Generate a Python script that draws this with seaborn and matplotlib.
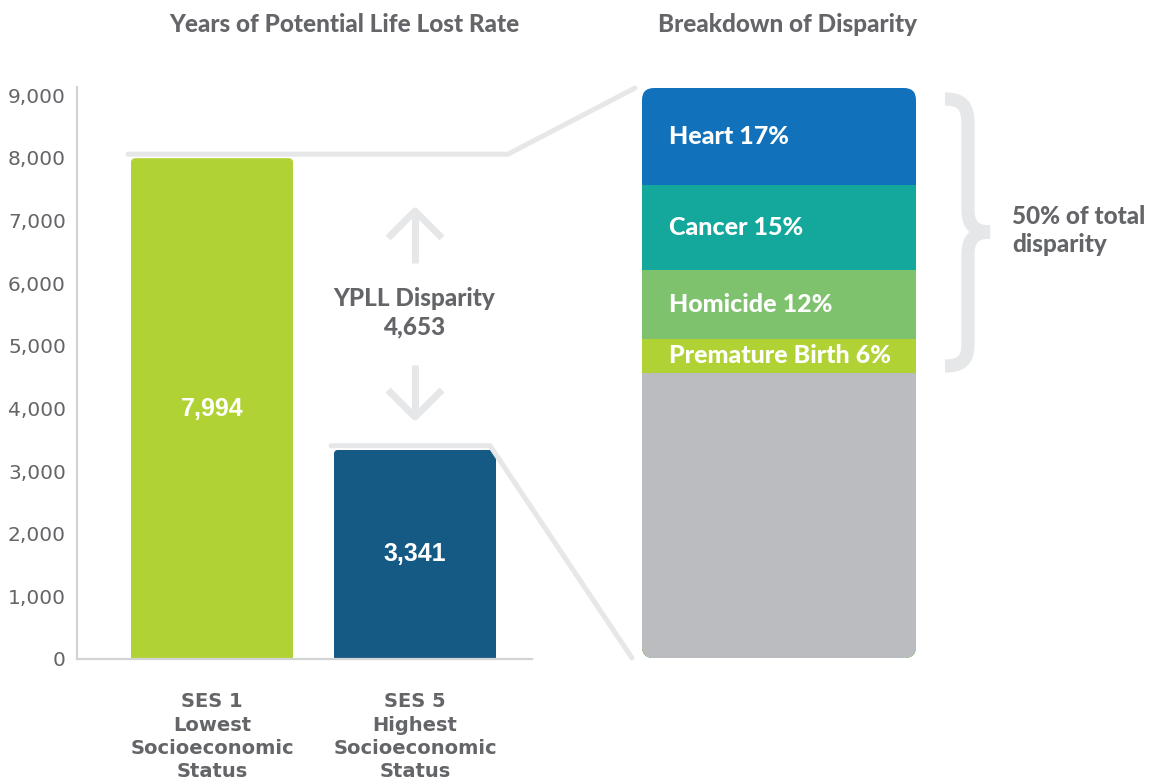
import numpy as np
import pandas as pd
import matplotlib
matplotlib.use("Agg")
import matplotlib.pyplot as plt
import seaborn as sns
from matplotlib.patches import FancyBboxPatch, PathPatch
from matplotlib.path import Path
from matplotlib.transforms import IdentityTransform

groups = ["SES 1\nLowest\nSocioeconomic\nStatus", "SES 5\nHighest\nSocioeconomic\nStatus"]
ypll = [7994, 3341]
bar_colors = ["#b0d235", "#155a85"]

causes = ["Heart", "Cancer", "Homicide", "Premature Birth", "Other"]
shares = [17, 15, 12, 6, 50]
cause_colors = ["#1172bb", "#13a89b", "#7fc26e", "#b0d235", "#bbbcbf"]

yticks = [0, 1000, 2000, 3000, 4000, 5000, 6000, 7000, 8000, 9000]

GREY_TXT = "#646568"
LINE = "#e6e7e8"
W, H = 1156, 783

sns.set_style("white")
plt.rcParams["font.family"] = ["DejaVu Sans"]

fig = plt.figure(figsize=(W / 100, H / 100), dpi=100)

def px_rect(x0, y_top, x1, y_bot):
    return [x0 / W, 1 - y_bot / H, (x1 - x0) / W, (y_bot - y_top) / H]

# left panel
ax = fig.add_axes(px_rect(77, 87, 532, 659))
df = pd.DataFrame({"group": groups, "ypll": ypll})
sns.barplot(data=df, x="group", y="ypll", hue="group", palette=bar_colors,
            width=0.8, saturation=1, legend=False, linewidth=0, ax=ax)
ax.set_xlim(-0.665, 1.576)
ax.set_ylim(0, 9130)
ax.set_yticks(yticks)
ax.set_yticklabels([f"{v:,}" for v in yticks], fontsize=14.5, color=GREY_TXT)
ax.tick_params(axis="y", length=0, pad=8)
ax.tick_params(axis="x", length=0, pad=24)
ax.set_xticks(range(len(groups)))
ax.set_xticklabels(groups, fontsize=14, fontweight="bold", color=GREY_TXT, linespacing=1.29)
ax.set_xlabel("")
ax.set_ylabel("")
for s in ["top", "right"]:
    ax.spines[s].set_visible(False)
for s in ["left", "bottom"]:
    ax.spines[s].set_color("#d1d3d4")
    ax.spines[s].set_linewidth(1.6)

# rounded top corners on the bars
for p in ax.patches:
    x0, y0 = ax.transData.transform((p.get_x(), 0))
    x1, y1 = ax.transData.transform((p.get_x() + p.get_width(), p.get_height()))
    clip = FancyBboxPatch((x0, y0 - 30), x1 - x0, y1 - y0 + 30,
                          boxstyle="round,pad=0,rounding_size=5",
                          transform=IdentityTransform())
    p.set_clip_path(clip)

for i, v in enumerate(ypll):
    ax.text(i, v / 2, f"{v:,}", ha="center", va="center", color="white",
            fontsize=18, fontweight="bold", family="Liberation Sans")

# right panel: disparity breakdown
axr = fig.add_axes(px_rect(642, 88, 916, 658))
tops = 100 - np.concatenate([[0], np.cumsum(shares)[:-1]])
for cause, top, col in zip(causes, tops, cause_colors):
    sns.barplot(x=["disparity"], y=[top], color=col, width=1, saturation=1,
                linewidth=0, ax=axr)
axr.set_xlim(-0.5, 0.5)
axr.set_ylim(0, 100)
axr.axis("off")
x0, y0 = axr.transAxes.transform((0, 0))
x1, y1 = axr.transAxes.transform((1, 1))
box = FancyBboxPatch((x0, y0), x1 - x0, y1 - y0,
                     boxstyle="round,pad=0,rounding_size=12",
                     transform=IdentityTransform())
for p in axr.patches:
    p.set_clip_path(box)
for cause, share, top in zip(causes[:-1], shares[:-1], tops[:-1]):
    axr.text(-0.403, top - share / 2, f"{cause} {share}%", ha="left", va="center",
             color="white", fontsize=18, fontweight="black", family="Lato")

# annotation layer in pixel coordinates
ov = fig.add_axes([0, 0, 1, 1])
ov.set_xlim(0, W)
ov.set_ylim(H, 0)
ov.axis("off")
ov.patch.set_alpha(0)

def to_px(axis, x, y):
    dx, dy = axis.transData.transform((x, y))
    return dx, H - dy

_, y_hi = to_px(ax, 0, ypll[0])
_, y_lo = to_px(ax, 0, ypll[1])
ov.plot([128, 508, 635], [y_hi - 4, y_hi - 4, 88], color=LINE, lw=3.6,
        solid_capstyle="round", solid_joinstyle="miter")
ov.plot([331, 490, 632], [y_lo - 4, y_lo - 4, 658], color=LINE, lw=3.6,
        solid_capstyle="round", solid_joinstyle="miter")

# disparity arrows
ov.plot([415, 415], [263, 212], color=LINE, lw=5, solid_capstyle="butt")
ov.plot([388, 415, 442], [238, 211, 238], color=LINE, lw=5, solid_capstyle="butt")
ov.plot([415, 415], [365, 416], color=LINE, lw=5, solid_capstyle="butt")
ov.plot([388, 415, 442], [390, 417, 390], color=LINE, lw=5, solid_capstyle="butt")
ov.text(414, 299, "YPLL Disparity", ha="center", va="center", fontsize=17.5,
        fontweight="black", color=GREY_TXT, family="Lato")
ov.text(414, 327, f"{ypll[0] - ypll[1]:,}", ha="center", va="center", fontsize=17.5,
        fontweight="black", color=GREY_TXT, family="Lato")

# curly brace
verts = [(945, 99), (962, 99), (968, 106), (968, 124),
         (968, 210),
         (968, 225), (975, 232), (990, 232),
         (975, 232), (968, 239), (968, 254),
         (968, 343),
         (968, 360), (962, 366), (945, 366)]
codes = [Path.MOVETO, Path.CURVE4, Path.CURVE4, Path.CURVE4,
         Path.LINETO,
         Path.CURVE4, Path.CURVE4, Path.CURVE4,
         Path.CURVE4, Path.CURVE4, Path.CURVE4,
         Path.LINETO,
         Path.CURVE4, Path.CURVE4, Path.CURVE4]
ov.add_patch(PathPatch(Path(verts, codes), fill=False, edgecolor=LINE, lw=9.5,
                       capstyle="butt"))
ov.text(1012, 217, "50% of total", ha="left", va="center", fontsize=17.5,
        fontweight="black", color=GREY_TXT, family="Lato")
ov.text(1012, 245, "disparity", ha="left", va="center", fontsize=17.5,
        fontweight="black", color=GREY_TXT, family="Lato")

# panel titles
ov.text(344, 24, "Years of Potential Life Lost Rate", ha="center", va="center",
        fontsize=17.5, fontweight="black", color=GREY_TXT, family="Lato")
ov.text(788, 24, "Breakdown of Disparity", ha="center", va="center",
        fontsize=17.5, fontweight="black", color=GREY_TXT, family="Lato")

fig.savefig("out.png", dpi=100)
